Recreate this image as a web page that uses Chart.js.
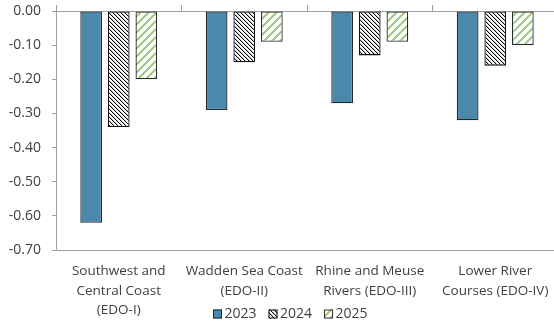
<!DOCTYPE html>
<html>
<head>
<meta charset="utf-8">
<script src="https://cdn.jsdelivr.net/npm/chart.js@4/dist/chart.umd.min.js"></script>
<style>
  html, body { margin: 0; padding: 0; background: #fff; overflow: hidden; }
  #wrap { width: 558px; height: 324px; }
</style>
</head>
<body>
<div id="wrap"><canvas id="c" width="558" height="324"></canvas></div>
<script>
// Regions (multi-line category labels)
const categories = [
  ["Southwest and", "Central Coast", "(EDO-I)"],
  ["Wadden Sea Coast", "(EDO-II)"],
  ["Rhine and Meuse", "Rivers (EDO-III)"],
  ["Lower River", "Courses (EDO-IV)"]
];
const seriesNames = ["2023", "2024", "2025"];
const values2023 = [-0.62, -0.29, -0.27, -0.32];
const values2024 = [-0.34, -0.15, -0.13, -0.16];
const values2025 = [-0.20, -0.09, -0.09, -0.10];
const yMin = -0.70, yMax = 0.00, yStep = 0.10;

const TEXT = '#404040';
const AXIS = '#a0a0a0';
const FONT = '"Open Sans", "Noto Sans", sans-serif';

// Fine black downward-diagonal hatch
function hatchDown() {
  const n = 4;
  const t = document.createElement('canvas');
  t.width = n; t.height = n;
  const g = t.getContext('2d');
  g.fillStyle = '#fff'; g.fillRect(0, 0, n, n);
  for (let r = 0; r < n; r++) {
    g.fillStyle = '#000'; g.fillRect(r % n, r, 1, 1);
    g.fillStyle = '#c4c4c4'; g.fillRect((r + 1) % n, r, 1, 1);
  }
  return g.createPattern(t, 'repeat');
}
// Wide green upward-diagonal hatch
function hatchUpGreen() {
  const n = 8;
  const t = document.createElement('canvas');
  t.width = n; t.height = n;
  const g = t.getContext('2d');
  g.fillStyle = '#fff'; g.fillRect(0, 0, n, n);
  g.fillStyle = '#a4cb88';
  for (let r = 0; r < n; r++) {
    for (let k = 0; k < 3; k++) g.fillRect(((n - 1 - r + k) % n + n) % n, r, 1, 1);
  }
  return g.createPattern(t, 'repeat');
}

const ctx0 = document.getElementById('c').getContext('2d');
const fills = ['#4a89ab', hatchDown(), hatchUpGreen()];
const borders = ['#1e2a30', '#111', '#2e2e2e'];

// Legend row drawn under the plot
const legendRow = {
  id: 'legendRow',
  afterDraw(chart) {
    const g = chart.ctx;
    g.save();
    g.font = '14px ' + FONT;
    g.textBaseline = 'middle';
    g.textAlign = 'left';
    let x = 213;
    const y = 314, box = 9;
    chart.data.datasets.forEach(ds => {
      g.fillStyle = ds.backgroundColor;
      g.fillRect(x, y - box / 2, box, box);
      g.strokeStyle = ds.borderColor;
      g.lineWidth = 1;
      g.strokeRect(x + 0.5, y - box / 2 + 0.5, box - 1, box - 1);
      g.fillStyle = TEXT;
      g.fillText(ds.label, x + box + 2.5, y);
      x += box + 2.5 + g.measureText(ds.label).width + 12;
    });
    g.restore();
  }
};

function noOverflow(s) {
  s.paddingTop = 0; s.paddingBottom = 0; s.paddingLeft = 0; s.paddingRight = 0;
}

new Chart(ctx0, {
  type: 'bar',
  data: {
    labels: categories,
    datasets: [
      { label: seriesNames[0], data: values2023, backgroundColor: fills[0], borderColor: borders[0] },
      { label: seriesNames[1], data: values2024, backgroundColor: fills[1], borderColor: borders[1] },
      { label: seriesNames[2], data: values2025, backgroundColor: fills[2], borderColor: borders[2] }
    ]
  },
  options: {
    responsive: false,
    animation: false,
    layout: { padding: 0 },
    datasets: {
      bar: { borderWidth: 1.3, borderSkipped: false, categoryPercentage: 0.66, barPercentage: 0.786 }
    },
    plugins: { legend: { display: false }, tooltip: { enabled: false } },
    scales: {
      x: {
        position: 'bottom',
        offset: true,
        grid: { display: false, drawTicks: false },
        border: { display: false },
        ticks: {
          color: TEXT, padding: 11.5, maxRotation: 0, autoSkip: false,
          font: { family: FONT, size: 13.5, lineHeight: 1.44 }
        },
        afterFit(s) { s.height = 74; noOverflow(s); }
      },
      xTop: {
        type: 'category',
        labels: categories,
        position: 'top',
        offset: true,
        grid: { offset: true, drawOnChartArea: false, drawTicks: true, tickLength: 6, color: AXIS },
        border: { display: true, color: AXIS, width: 1 },
        ticks: { display: false },
        afterFit(s) { s.height = 11; noOverflow(s); }
      },
      y: {
        min: yMin, max: yMax,
        ticks: {
          stepSize: yStep, color: TEXT, padding: 11,
          font: { family: FONT, size: 14 },
          callback: v => v.toFixed(2)
        },
        grid: {
          drawTicks: true, tickLength: 4, tickColor: AXIS,
          color: c => (c.tick && Math.abs(c.tick.value - yMin) < 1e-6) ? AXIS : 'rgba(0,0,0,0)'
        },
        border: { display: true, color: AXIS, width: 1 },
        afterFit(s) { s.width = 56; noOverflow(s); }
      }
    }
  },
  plugins: [legendRow]
});
</script>
</body>
</html>
